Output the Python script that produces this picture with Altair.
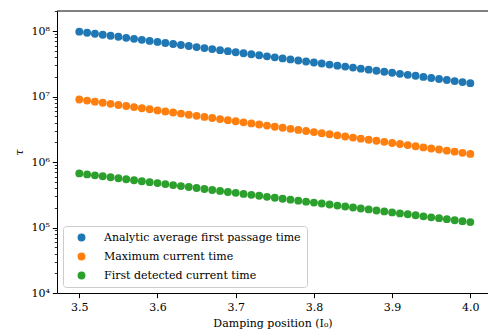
import altair as alt
import pandas as pd

x_vals = [3.50, 3.51, 3.52, 3.53, 3.54, 3.55, 3.56, 3.57, 3.58, 3.59,
          3.60, 3.61, 3.62, 3.63, 3.64, 3.65, 3.66, 3.67, 3.68, 3.69,
          3.70, 3.71, 3.72, 3.73, 3.74, 3.75, 3.76, 3.77, 3.78, 3.79,
          3.80, 3.81, 3.82, 3.83, 3.84, 3.85, 3.86, 3.87, 3.88, 3.89,
          3.90, 3.91, 3.92, 3.93, 3.94, 3.95, 3.96, 3.97, 3.98, 3.99, 4.00]

analytic = [9.77e7, 9.42e7, 9.09e7, 8.77e7, 8.46e7, 8.16e7, 7.87e7, 7.59e7, 7.32e7, 7.06e7,
            6.81e7, 6.57e7, 6.33e7, 6.11e7, 5.89e7, 5.68e7, 5.48e7, 5.29e7, 5.10e7, 4.92e7,
            4.74e7, 4.57e7, 4.41e7, 4.26e7, 4.10e7, 3.96e7, 3.82e7, 3.68e7, 3.55e7, 3.43e7,
            3.30e7, 3.19e7, 3.07e7, 2.96e7, 2.86e7, 2.76e7, 2.66e7, 2.57e7, 2.47e7, 2.39e7,
            2.30e7, 2.22e7, 2.14e7, 2.07e7, 1.99e7, 1.92e7, 1.85e7, 1.79e7, 1.72e7, 1.66e7, 1.60e7]

maximum = [9.00e6, 8.66e6, 8.34e6, 8.03e6, 7.72e6, 7.43e6, 7.16e6, 6.89e6, 6.63e6, 6.38e6,
           6.14e6, 5.91e6, 5.69e6, 5.48e6, 5.27e6, 5.07e6, 4.88e6, 4.70e6, 4.52e6, 4.35e6,
           4.19e6, 4.03e6, 3.88e6, 3.74e6, 3.60e6, 3.46e6, 3.33e6, 3.21e6, 3.09e6, 2.97e6,
           2.86e6, 2.75e6, 2.65e6, 2.55e6, 2.45e6, 2.36e6, 2.27e6, 2.19e6, 2.11e6, 2.03e6,
           1.95e6, 1.88e6, 1.81e6, 1.74e6, 1.67e6, 1.61e6, 1.55e6, 1.49e6, 1.44e6, 1.38e6, 1.33e6]

first_detected = [6.70e5, 6.47e5, 6.26e5, 6.05e5, 5.84e5, 5.65e5, 5.46e5, 5.27e5, 5.09e5, 4.92e5,
                  4.76e5, 4.60e5, 4.44e5, 4.29e5, 4.15e5, 4.01e5, 3.87e5, 3.74e5, 3.62e5, 3.49e5,
                  3.38e5, 3.26e5, 3.15e5, 3.05e5, 2.94e5, 2.85e5, 2.75e5, 2.66e5, 2.57e5, 2.48e5,
                  2.40e5, 2.32e5, 2.24e5, 2.16e5, 2.09e5, 2.02e5, 1.95e5, 1.89e5, 1.82e5, 1.76e5,
                  1.70e5, 1.64e5, 1.59e5, 1.54e5, 1.48e5, 1.43e5, 1.39e5, 1.34e5, 1.29e5, 1.25e5, 1.21e5]

series_names = ["Analytic average first passage time",
                "Maximum current time",
                "First detected current time"]
series_colors = ["#1f77b4", "#ff7f0e", "#2ca02c"]

x_ticks = [3.5, 3.6, 3.7, 3.8, 3.9, 4.0]
y_ticks = [1e4, 2e4, 3e4, 4e4, 5e4, 6e4, 7e4, 8e4, 9e4,
           1e5, 2e5, 3e5, 4e5, 5e5, 6e5, 7e5, 8e5, 9e5,
           1e6, 2e6, 3e6, 4e6, 5e6, 6e6, 7e6, 8e6, 9e6,
           1e7, 2e7, 3e7, 4e7, 5e7, 6e7, 7e7, 8e7, 9e7,
           1e8, 2e8]

rows = []
for name, vals in zip(series_names, [analytic, maximum, first_detected]):
    for xv, yv in zip(x_vals, vals):
        rows.append({"pos": xv, "tau": yv, "series": name})
df = pd.DataFrame(rows)

FONT = "DejaVu Serif"
FS = 11
major = "abs(log(datum.value)/LN10 - round(log(datum.value)/LN10)) < 0.001"
sup = "['⁰','¹','²','³','⁴','⁵','⁶','⁷','⁸','⁹']"
label_expr = f"{major} ? '10' + {sup}[round(log(datum.value)/LN10)] : ''"

points = alt.Chart(df).mark_circle(size=62, opacity=1).encode(
    x=alt.X("pos:Q",
            scale=alt.Scale(domain=[3.4715, 4.0226], nice=False, zero=False),
            axis=alt.Axis(values=x_ticks, format=".1f", title="Damping position (I₀)",
                          tickSize=4.7, tickWidth=1, labelPadding=4, titlePadding=5)),
    y=alt.Y("tau:Q",
            scale=alt.Scale(type="log", domain=[1e4, 2.02e8], nice=False),
            axis=alt.Axis(values=y_ticks, labelExpr=label_expr, title="τ",
                          tickSize={"condition": {"test": major, "value": 4.7}, "value": 2.7},
                          tickWidth={"condition": {"test": major, "value": 1}, "value": 0.8},
                          labelPadding=3, titlePadding=6, titleFontStyle="italic")),
    color=alt.Color("series:N",
                    scale=alt.Scale(domain=series_names, range=series_colors),
                    sort=series_names,
                    legend=alt.Legend(title=None, orient="none", legendX=6, legendY=215,
                                      symbolType="circle", symbolSize=62,
                                      symbolStrokeWidth=0, symbolOffset=7,
                                      labelOffset=17, rowPadding=7, padding=6,
                                      labelFontSize=FS, labelFont=FONT, labelLimit=400,
                                      labelColor="black",
                                      strokeColor="#cccccc", cornerRadius=3,
                                      fillColor="rgba(255,255,255,0.8)")),
)

top_spine = alt.Chart(pd.DataFrame({"v": [0]})).mark_rule(color="black", strokeWidth=1).encode(
    x=alt.value(0), x2=alt.value(431), y=alt.value(0)
)

chart = alt.layer(points, top_spine).properties(
    width=431, height=282,
    padding={"left": 57, "top": 11, "right": 0, "bottom": 38},
    autosize="none",
).configure_view(stroke=None).configure_axis(
    domainColor="black", domainWidth=1, tickColor="black", grid=False,
    labelFont=FONT, titleFont=FONT, labelFontSize=FS, titleFontSize=FS,
    labelColor="black", titleColor="black", titleFontWeight="normal",
)

chart.save("out.html", embed_options={"renderer": "svg", "actions": False})
